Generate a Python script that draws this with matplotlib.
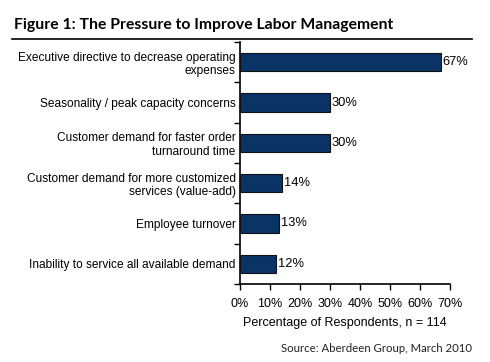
import matplotlib
matplotlib.use("Agg")
import matplotlib.pyplot as plt
from matplotlib.lines import Line2D

categories = [
    "Executive directive to decrease operating\nexpenses",
    "Seasonality / peak capacity concerns",
    "Customer demand for faster order\nturnaround time",
    "Customer demand for more customized\nservices (value-add)",
    "Employee turnover",
    "Inability to service all available demand",
]
values = [67, 30, 30, 14, 13, 12]
xticks = [0, 10, 20, 30, 40, 50, 60, 70]

plt.rcParams['font.family'] = ['Liberation Sans', 'DejaVu Sans']

W, H = 490, 362
fig = plt.figure(figsize=(W/100, H/100), dpi=100)
ax = fig.add_axes([240/W, 1-284/H, 210/W, (284-42)/H])

n = len(categories)
ypos = list(range(n))[::-1]
ax.barh(ypos, values, height=0.45, color="#0a3366", edgecolor="#111111", linewidth=0.8, zorder=3)
for y, v in zip(ypos, values):
    ax.text(v + 0.6, y, f"{v}%", va="center", ha="left", fontsize=9.3, color="black")

ax.set_xlim(0, 70)
ax.set_ylim(-0.5, n - 0.5)
ax.set_xticks(xticks)
ax.set_xticklabels([f"{t}%" for t in xticks], fontsize=9)
ax.set_yticks(ypos)
ax.set_yticklabels(categories, fontsize=8.6, linespacing=1.15)
ax.set_yticks([i - 0.5 for i in range(n + 1)], minor=True)
ax.tick_params(axis='y', which='major', length=0, pad=3)
ax.tick_params(axis='y', which='minor', length=4, width=1, direction='out')
ax.tick_params(axis='x', length=4, width=1, direction='out', pad=6)
for s in ['top', 'right']:
    ax.spines[s].set_visible(False)
for s in ['left', 'bottom']:
    ax.spines[s].set_linewidth(1.2)
ax.set_xlabel("Percentage of Respondents, n = 114", fontsize=9, labelpad=5)

fig.text(14/W, 1-25/H, "Figure 1: The Pressure to Improve Labor Management",
         fontsize=11.3, fontweight='bold', va='center', ha='left', family=['Lato', 'DejaVu Sans'])
fig.add_artist(Line2D([12/W, 472/W], [1-39/H, 1-39/H], color='black', linewidth=1.2))
fig.text(472/W, 1-349/H, "Source: Aberdeen Group, March 2010", fontsize=8.2,
         ha='right', va='center', family=['Lato', 'DejaVu Sans'], color='#222222')

fig.savefig("out.png", dpi=100)
